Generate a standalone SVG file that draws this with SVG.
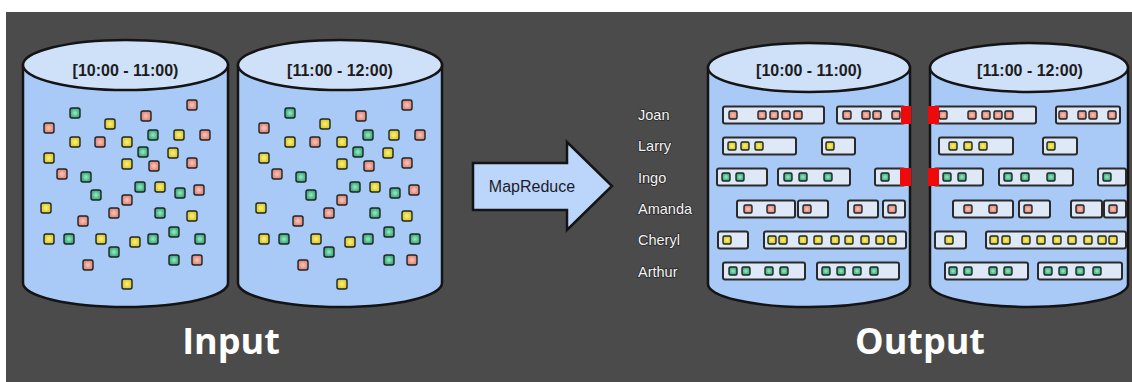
<svg xmlns="http://www.w3.org/2000/svg" xmlns:xlink="http://www.w3.org/1999/xlink" width="1132" height="382" viewBox="0 0 1132 382">
  <style>
    .cyl-body { fill: #a9c9f6; stroke: #141414; stroke-width: 2.5; }
    .cyl-top { fill: #cfe0f9; stroke: #141414; stroke-width: 2.5; }
    .cyl-label { font-family: "Liberation Sans", Arial, sans-serif; font-weight: bold; font-size: 16px; fill: #1c1c1c; text-anchor: middle; }
    .bar { fill: #dfe8f7; stroke: #2a2a2a; stroke-width: 2; }
    .flag { fill: #ee0a0a; }
    .name { font-family: "Liberation Sans", Arial, sans-serif; font-size: 14.5px; fill: #f4f4f4; stroke: #2a2a2a; stroke-width: 1.6; paint-order: stroke; }
    .title { font-family: "Open Sans", "Noto Sans", sans-serif; font-weight: bold; font-size: 36px; fill: #ffffff; text-anchor: middle; }
    .dot { stroke: #1e2626; stroke-width: 1.4; }
  </style>
  <defs>
    <radialGradient id="gp" cx="0.5" cy="0.5" r="0.6">
      <stop offset="0" stop-color="#fbc6b6"/>
      <stop offset="1" stop-color="#d9766a"/>
    </radialGradient>
    <radialGradient id="gy" cx="0.5" cy="0.5" r="0.6">
      <stop offset="0" stop-color="#fbf27a"/>
      <stop offset="1" stop-color="#d4bf1a"/>
    </radialGradient>
    <radialGradient id="gg" cx="0.5" cy="0.5" r="0.6">
      <stop offset="0" stop-color="#98ecc6"/>
      <stop offset="1" stop-color="#279867"/>
    </radialGradient>
    <!-- loose records (input) -->
    <rect id="sp" class="dot" x="-5" y="-5" width="10" height="10" rx="2" fill="url(#gp)"/>
    <rect id="sy" class="dot" x="-5" y="-5" width="10" height="10" rx="2" fill="url(#gy)"/>
    <rect id="sg" class="dot" x="-5" y="-5" width="10" height="10" rx="2" fill="url(#gg)"/>
    <!-- grouped records (output) -->
    <rect id="bp" class="dot" x="-4" y="-4" width="8" height="8" rx="1.5" fill="url(#gp)"/>
    <rect id="by" class="dot" x="-4" y="-4" width="8" height="8" rx="1.5" fill="url(#gy)"/>
    <rect id="bg" class="dot" x="-4" y="-4" width="8" height="8" rx="1.5" fill="url(#gg)"/>
    <g id="scatter">
      <use href="#sp" x="192" y="105"/><use href="#sg" x="75" y="113"/><use href="#sp" x="146" y="116"/>
      <use href="#sy" x="110" y="124"/><use href="#sp" x="49" y="128"/><use href="#sy" x="75" y="142"/>
      <use href="#sp" x="100" y="142"/><use href="#sy" x="127" y="142"/><use href="#sg" x="153" y="135"/>
      <use href="#sy" x="179" y="135"/><use href="#sp" x="205" y="135"/><use href="#sg" x="143" y="152"/>
      <use href="#sy" x="173" y="153"/><use href="#sy" x="49" y="158"/><use href="#sy" x="127" y="164"/>
      <use href="#sp" x="154" y="166"/><use href="#sp" x="192" y="163"/><use href="#sp" x="62" y="174"/>
      <use href="#sg" x="86" y="177"/><use href="#sg" x="140" y="187"/><use href="#sy" x="160" y="187"/>
      <use href="#sg" x="180" y="193"/><use href="#sp" x="199" y="190"/><use href="#sg" x="96" y="195"/>
      <use href="#sp" x="127" y="200"/><use href="#sy" x="46" y="208"/><use href="#sp" x="114" y="213"/>
      <use href="#sg" x="160" y="213"/><use href="#sy" x="192" y="216"/><use href="#sp" x="83" y="221"/>
      <use href="#sg" x="174" y="232"/><use href="#sy" x="49" y="239"/><use href="#sg" x="69" y="239"/>
      <use href="#sy" x="101" y="239"/><use href="#sy" x="135" y="242"/><use href="#sg" x="153" y="239"/>
      <use href="#sg" x="200" y="239"/><use href="#sg" x="114" y="252"/><use href="#sp" x="88" y="265"/>
      <use href="#sg" x="174" y="260"/><use href="#sp" x="197" y="260"/><use href="#sy" x="127" y="284"/>
    </g>
  </defs>

  <!-- canvas -->
  <rect x="0" y="0" width="1132" height="382" fill="#ffffff"/>
  <rect x="6" y="12" width="1126" height="370" fill="#4b4b4b"/>

  <!-- input partitions -->
  <g id="input-10-11">
    <path class="cyl-body" d="M23,65 V283 A102.5,24 0 0 0 228,283 V65 Z"/>
    <ellipse class="cyl-top" cx="125.5" cy="65" rx="102.5" ry="25"/>
    <text class="cyl-label" x="125.5" y="76">[10:00 - 11:00)</text>
    <use href="#scatter"/>
  </g>
  <g id="input-11-12">
    <path class="cyl-body" d="M238,65 V283 A102,24 0 0 0 442,283 V65 Z"/>
    <ellipse class="cyl-top" cx="340" cy="65" rx="102" ry="25"/>
    <text class="cyl-label" x="340" y="76">[11:00 - 12:00)</text>
    <use href="#scatter" transform="translate(215,0)"/>
  </g>

  <!-- processing step -->
  <g id="connectors">
    <g id="mapreduce">
      <path d="M473,163 H567 V142 L612,186 L567,230 V210 H473 Z" fill="#bcd5fb" stroke="#141414" stroke-width="2.5" stroke-linejoin="miter"/>
      <text x="532" y="192" font-family="Liberation Sans, Arial, sans-serif" font-size="16" fill="#1c1c2a" text-anchor="middle">MapReduce</text>
    </g>
  </g>

  <!-- key names -->
  <g id="keys">
    <text class="name" x="638" y="120">Joan</text>
    <text class="name" x="638" y="151">Larry</text>
    <text class="name" x="638" y="183">Ingo</text>
    <text class="name" x="638" y="214">Amanda</text>
    <text class="name" x="638" y="245">Cheryl</text>
    <text class="name" x="638" y="277">Arthur</text>
  </g>

  <!-- output partitions -->
  <g id="output-10-11">
    <path class="cyl-body" d="M708,67.5 V284 A101,23 0 0 0 910,284 V67.5 Z"/>
    <ellipse class="cyl-top" cx="809" cy="67.5" rx="101" ry="24.5"/>
    <text class="cyl-label" x="809" y="76">[10:00 - 11:00)</text>
    <!-- Joan -->
    <rect class="bar" x="723" y="106.5" width="101" height="17" rx="2"/>
    <use href="#bp" x="733" y="115"/><use href="#bp" x="762" y="115"/><use href="#bp" x="774" y="115"/><use href="#bp" x="786" y="115"/><use href="#bp" x="798" y="115"/>
    <rect class="bar" x="837" y="106.5" width="68" height="17" rx="2"/>
    <use href="#bp" x="847" y="115"/><use href="#bp" x="866" y="115"/><use href="#bp" x="877" y="115"/><use href="#bp" x="896" y="115"/>
    <rect class="flag" x="901" y="106" width="10" height="18"/>
    <!-- Larry -->
    <rect class="bar" x="723" y="137.5" width="73" height="17" rx="2"/>
    <use href="#by" x="732" y="146"/><use href="#by" x="745" y="146"/><use href="#by" x="759" y="146"/>
    <rect class="bar" x="822" y="137.5" width="33" height="17" rx="2"/>
    <use href="#by" x="830" y="146"/>
    <!-- Ingo -->
    <rect class="bar" x="717" y="168.5" width="50" height="17" rx="2"/>
    <use href="#bg" x="726" y="177"/><use href="#bg" x="740" y="177"/>
    <rect class="bar" x="778" y="168.5" width="72" height="17" rx="2"/>
    <use href="#bg" x="788" y="177"/><use href="#bg" x="803" y="177"/><use href="#bg" x="828" y="177"/>
    <rect class="bar" x="875" y="168.5" width="30" height="17" rx="2"/>
    <use href="#bg" x="885" y="177"/>
    <rect class="flag" x="900" y="168" width="11" height="18"/>
    <!-- Amanda -->
    <rect class="bar" x="737" y="200.5" width="58" height="17" rx="2"/>
    <use href="#bp" x="748" y="209"/><use href="#bp" x="771" y="209"/>
    <rect class="bar" x="798" y="200.5" width="30" height="17" rx="2"/>
    <use href="#bp" x="807" y="209"/>
    <rect class="bar" x="848" y="200.5" width="30" height="17" rx="2"/>
    <use href="#bp" x="858" y="209"/>
    <rect class="bar" x="883" y="200.5" width="22" height="17" rx="2"/>
    <use href="#bp" x="892" y="209"/>
    <!-- Cheryl -->
    <rect class="bar" x="718" y="231.5" width="30" height="17" rx="2"/>
    <use href="#by" x="727" y="240"/>
    <rect class="bar" x="764" y="231.5" width="142" height="17" rx="2"/>
    <use href="#by" x="772" y="240"/><use href="#by" x="783" y="240"/><use href="#by" x="803" y="240"/><use href="#by" x="818" y="240"/><use href="#by" x="835" y="240"/><use href="#by" x="849" y="240"/><use href="#by" x="865" y="240"/><use href="#by" x="880" y="240"/><use href="#by" x="892" y="240"/>
    <!-- Arthur -->
    <rect class="bar" x="723" y="262.5" width="82" height="17" rx="2"/>
    <use href="#bg" x="733" y="271"/><use href="#bg" x="746" y="271"/><use href="#bg" x="769" y="271"/><use href="#bg" x="784" y="271"/>
    <rect class="bar" x="817" y="262.5" width="82" height="17" rx="2"/>
    <use href="#bg" x="826" y="271"/><use href="#bg" x="841" y="271"/><use href="#bg" x="857" y="271"/><use href="#bg" x="874" y="271"/>
  </g>

  <g id="output-11-12">
    <path class="cyl-body" d="M930,67.5 V284 A99,23 0 0 0 1128,284 V67.5 Z"/>
    <ellipse class="cyl-top" cx="1029" cy="67.5" rx="99" ry="24.5"/>
    <text class="cyl-label" x="1030" y="76">[11:00 - 12:00)</text>
    <!-- Joan -->
    <rect class="bar" x="934" y="106.5" width="102" height="17" rx="2"/>
    <use href="#bp" x="943" y="115"/><use href="#bp" x="972" y="115"/><use href="#bp" x="986" y="115"/><use href="#bp" x="998" y="115"/><use href="#bp" x="1009" y="115"/>
    <rect class="bar" x="1056" y="106.5" width="64" height="17" rx="2"/>
    <use href="#bp" x="1063" y="115"/><use href="#bp" x="1082" y="115"/><use href="#bp" x="1093" y="115"/><use href="#bp" x="1112" y="115"/>
    <rect class="flag" x="928" y="106" width="11" height="18"/>
    <!-- Larry -->
    <rect class="bar" x="939" y="137.5" width="74" height="17" rx="2"/>
    <use href="#by" x="953" y="146"/><use href="#by" x="968" y="146"/><use href="#by" x="983" y="146"/>
    <rect class="bar" x="1043" y="137.5" width="34" height="17" rx="2"/>
    <use href="#by" x="1051" y="146"/>
    <!-- Ingo -->
    <rect class="bar" x="934" y="168.5" width="49" height="17" rx="2"/>
    <use href="#bg" x="947" y="177"/><use href="#bg" x="962" y="177"/>
    <rect class="bar" x="999" y="168.5" width="74" height="17" rx="2"/>
    <use href="#bg" x="1008" y="177"/><use href="#bg" x="1025" y="177"/><use href="#bg" x="1051" y="177"/>
    <rect class="bar" x="1098" y="168.5" width="28" height="17" rx="2"/>
    <use href="#bg" x="1107" y="177"/>
    <rect class="flag" x="928" y="168" width="11" height="18"/>
    <!-- Amanda -->
    <rect class="bar" x="953" y="200.5" width="60" height="17" rx="2"/>
    <use href="#bp" x="968" y="209"/><use href="#bp" x="993" y="209"/>
    <rect class="bar" x="1019" y="200.5" width="31" height="17" rx="2"/>
    <use href="#bp" x="1028" y="209"/>
    <rect class="bar" x="1071" y="200.5" width="31" height="17" rx="2"/>
    <use href="#bp" x="1080" y="209"/>
    <rect class="bar" x="1104" y="200.5" width="22" height="17" rx="2"/>
    <use href="#bp" x="1113" y="209"/>
    <!-- Cheryl -->
    <rect class="bar" x="935" y="231.5" width="31" height="17" rx="2"/>
    <use href="#by" x="949" y="240"/>
    <rect class="bar" x="986" y="231.5" width="140" height="17" rx="2"/>
    <use href="#by" x="994" y="240"/><use href="#by" x="1006" y="240"/><use href="#by" x="1026" y="240"/><use href="#by" x="1041" y="240"/><use href="#by" x="1057" y="240"/><use href="#by" x="1072" y="240"/><use href="#by" x="1088" y="240"/><use href="#by" x="1102" y="240"/><use href="#by" x="1113" y="240"/>
    <!-- Arthur -->
    <rect class="bar" x="945" y="262.5" width="83" height="17" rx="2"/>
    <use href="#bg" x="953" y="271"/><use href="#bg" x="968" y="271"/><use href="#bg" x="993" y="271"/><use href="#bg" x="1008" y="271"/>
    <rect class="bar" x="1038" y="262.5" width="84" height="17" rx="2"/>
    <use href="#bg" x="1048" y="271"/><use href="#bg" x="1063" y="271"/><use href="#bg" x="1080" y="271"/><use href="#bg" x="1097" y="271"/>
  </g>

  <!-- captions -->
  <g id="captions">
    <text class="title" x="231" y="354">Input</text>
    <text class="title" x="920" y="354">Output</text>
  </g>
</svg>
